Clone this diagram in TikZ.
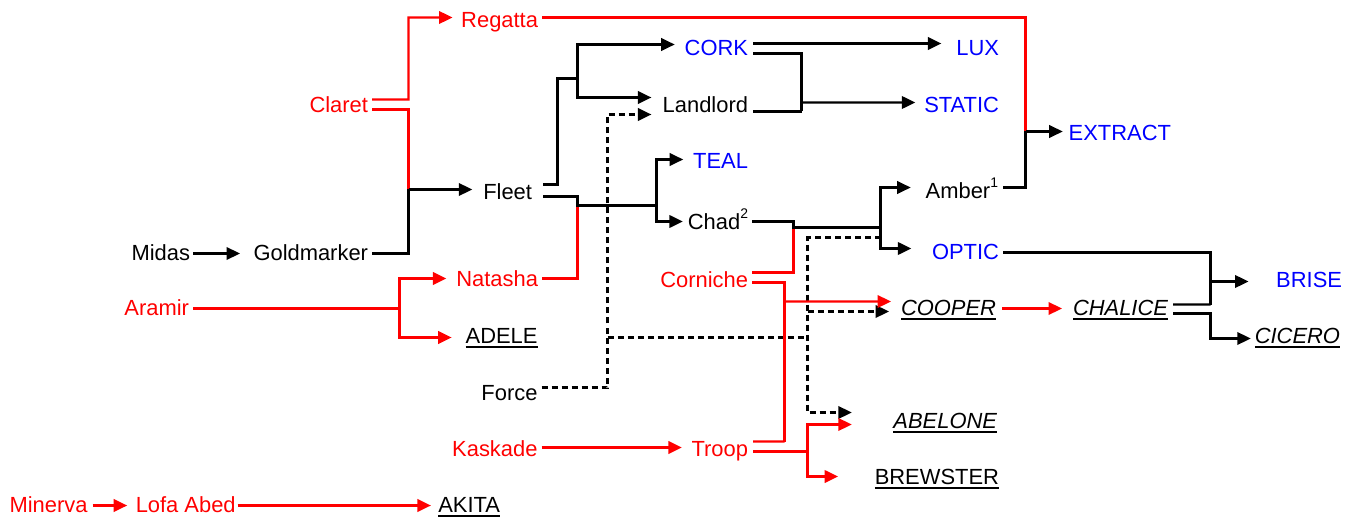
\documentclass[tikz,border=0pt]{standalone}
\usepackage{fontspec}
\setmainfont{Liberation Sans}
\usetikzlibrary{calc,arrows.meta}
\newcommand\ulbox[1]{\setbox0\hbox{#1}\rlap{\rule[-3.8pt]{\wd0}{1.6pt}}\box0}
\newcommand\supnum[1]{\raisebox{11pt}{\fontsize{14}{14}\selectfont #1}}
\tikzset{
  lbl/.style={anchor=east, inner sep=0pt, outer sep=0pt, text height=15.75pt, text depth=0pt, font=\fontsize{22}{26}\selectfont},
  tred/.style={lbl, text=red},
  tblue/.style={lbl, text=blue},
  tblack/.style={lbl, text=black},
  ln/.style={line width=2.2bp},
  arr/.style={ln, -{Triangle[length=13.5bp,width=12.5bp]}},
  dsh/.style={dash pattern=on 6bp off 4bp},
}
\begin{document}
\begin{tikzpicture}[x=1bp,y=-1bp]
\useasboundingbox (0,0) rectangle (1357,517);
% column 0/1
\node[tred]   (regatta)    at (538,20)    {Regatta};
\node[tred]   (claret)     at (368,105)   {Claret};
\node[tblack] (fleet)      at (532,191.5) {Fleet};
\node[tblack] (midas)      at (190,253)   {Midas};
\node[tblack] (goldmarker) at (368,253)   {Goldmarker};
\node[tred]   (natasha)    at (538,279)   {Natasha};
\node[tred]   (aramir)     at (189,308)   {Aramir};
\node[tblack] (adele)      at (537.5,336) {\ulbox{ADELE}};
\node[tblack] (force)      at (537.5,393) {Force};
\node[tred]   (kaskade)    at (537.5,449) {Kaskade};
\node[tred]   (minerva)    at (87.5,505)  {Minerva};
\node[tred]   (lofa)       at (235.7,505) {Lofa Abed};
\node[tblack] (akita)      at (500,505)   {\ulbox{AKITA}};
% column 2
\node[tblue]  (cork)       at (748,47.5)  {CORK};
\node[tblack] (landlord)   at (748,105)   {Landlord};
\node[tblue]  (teal)       at (748,161)   {TEAL};
\node[tblack] (chad)       at (748,222)   {Chad\supnum{2}};
\node[tred]   (corniche)   at (748,280)   {Corniche};
\node[tred]   (troop)      at (748,449)   {Troop};
% column 3
\node[tblue]  (lux)        at (999,47.5)  {LUX};
\node[tblue]  (static)     at (999,105)   {STATIC};
\node[tblack] (amber)      at (998,191)   {Amber\supnum{1}};
\node[tblue]  (optic)      at (999,252)   {OPTIC};
\node[tblack] (cooper)     at (996,308)   {\ulbox{\itshape COOPER}};
\node[tblack] (abelone)    at (997,421)   {\ulbox{\itshape ABELONE}};
\node[tblack] (brewster)   at (999,477)   {\ulbox{BREWSTER}};
% column 4/5
\node[tblue]  (extract)    at (1171,132.5) {EXTRACT};
\node[tblack] (chalice)    at (1168,308)  {\ulbox{\itshape CHALICE}};
\node[tblue]  (brise)      at (1342,279.5) {BRISE};
\node[tblack] (cicero)     at (1340,336)  {\ulbox{\itshape CICERO}};

% junctions
\coordinate (jfleet) at (408.5,189.5);
\coordinate (jcl) at (408.5,99.5);
\coordinate (jext) at (1025.5,131.5);
\coordinate (jfu) at (557.5,78.5);
\coordinate (jck) at (577.5,78.5);
\coordinate (jfl) at (577.5,205.5);
\coordinate (jtc) at (656.5,205.5);
\coordinate (jst) at (801.5,111.5);
\coordinate (jstat) at (801.5,102.5);
\coordinate (jforce) at (607.5,114.5);
\coordinate (jfh) at (607.5,337.5);
\coordinate (jfh2) at (807.5,337.5);
\coordinate (jao) at (880.5,227.5);
\coordinate (jaod) at (880.5,237.5);
\coordinate (jdc) at (807.5,311.5);
\coordinate (jchad) at (793.5,227.5);
\coordinate (jcor) at (793.5,229);
\coordinate (jtr) at (784.5,441.5);
\coordinate (jcoo) at (784.5,301.5);
\coordinate (jtb) at (807.5,451.5);
\coordinate (jop) at (1210.5,304.5);
\coordinate (jbr) at (1210.5,281.5);
\coordinate (jci) at (1210.5,338.5);
\coordinate (jar) at (399.5,308.5);

% Claret / Goldmarker / Midas
\draw[arr,red] ($(claret.east)+(4,-5.5)$) -- (jcl) |- ($(regatta.west)+(-8.7,-2.5)$);
\draw[ln,red] ($(claret.east)+(4,4.5)$) -| (jfleet);
\draw[ln] ($(goldmarker.east)+(4,0.5)$) -| (jfleet);
\draw[arr] (jfleet) -- ($(fleet.west)+(-11,-2)$);
\draw[arr] ($(midas.east)+(3,0.5)$) -- ($(goldmarker.west)+(-13.5,0.5)$);

% Regatta / Amber -> EXTRACT
\draw[ln,red] ($(regatta.east)+(4,-2.5)$) -| (jext);
\draw[ln] ($(amber.east)+(5,-3.5)$) -| (jext);
\draw[arr] (jext) -- ($(extract.west)+(-6,-1)$);

% Fleet upper -> CORK, Landlord
\draw[ln] ($(fleet.east)+(11,-7)$) -| (jfu) -- (jck);
\draw[arr] (jck) |- ($(cork.west)+(-10,-3)$);
\draw[arr] (jck) |- ($(landlord.west)+(-11.3,-7.5)$);

% Fleet lower + Natasha -> TEAL, Chad
\draw[ln,red] ($(natasha.east)+(4,-0.5)$) -| (jfl);
\draw[ln] ($(fleet.east)+(11,5)$) -| (jfl) -- (jtc);
\draw[arr] (jtc) |- ($(teal.west)+(-10,-1.5)$);
\draw[arr] (jtc) |- ($(chad.west)+(-5,-0.5)$);

% CORK -> LUX ; CORK + Landlord -> STATIC
\draw[arr] ($(cork.east)+(5,-4)$) -- ($(lux.west)+(-15,-4)$);
\draw[ln] ($(cork.east)+(5,6)$) -| (jst);
\draw[ln] ($(landlord.east)+(5,6.5)$) -- (jst);
\draw[arr] (jstat) -- ($(static.west)+(-9,-2.5)$);

% Force dashed
\draw[arr,dsh] ($(force.east)+(4,-5.5)$) -| (jforce) -- ($(landlord.west)+(-11.3,9.5)$);
\draw[ln,dsh] (jfh) -- (jfh2);
\draw[arr,dsh] (jaod) -| (jfh2) |- ($(abelone.west)+(-41.7,-8.5)$);
\draw[arr,dsh] (jdc) -- ($(cooper.west)+(-12,3.5)$);

% Chad + Corniche -> Amber, OPTIC
\draw[ln,red] ($(corniche.east)+(4,-7.5)$) -| (jcor);
\draw[ln] ($(chad.east)+(4,-0.5)$) -| (jchad) -- (jao);
\draw[arr] (jao) |- ($(amber.west)+(-15,-3.5)$);
\draw[arr] (jao) |- ($(optic.west)+(-20.7,-3.5)$);

% Corniche + Troop -> COOPER
\draw[ln,red] ($(corniche.east)+(4,2.5)$) -| (jtr);
\draw[ln,red] ($(troop.east)+(5,-7.5)$) -- (jtr);
\draw[arr,red] (jcoo) -- ($(cooper.west)+(-10,-6.5)$);

% Kaskade -> Troop
\draw[arr,red] ($(kaskade.east)+(4,-1.5)$) -- ($(troop.west)+(-9.7,-1.5)$);

% Troop -> ABELONE, BREWSTER
\draw[ln,red] ($(troop.east)+(5,2.5)$) -- (jtb);
\draw[arr,red] (jtb) |- ($(abelone.west)+(-41.7,3.5)$);
\draw[arr,red] (jtb) |- ($(brewster.west)+(-36.7,-0.5)$);

% OPTIC + CHALICE -> BRISE ; CHALICE -> CICERO
\draw[ln] ($(optic.east)+(4,0.5)$) -| (jop);
\draw[ln] ($(chalice.east)+(5,-3.5)$) -- (jop);
\draw[arr] (jbr) -- ($(brise.west)+(-27.7,2)$);
\draw[arr] ($(chalice.east)+(5,5.5)$) -| (jci) -- ($(cicero.west)+(-4,2.5)$);
\draw[arr,red] ($(cooper.east)+(6,0.5)$) -- ($(chalice.west)+(-11,0.5)$);

% Aramir -> Natasha, ADELE
\draw[ln,red] ($(aramir.east)+(4,0.5)$) -- (jar);
\draw[arr,red] (jar) |- ($(natasha.west)+(-10,-0.5)$);
\draw[arr,red] (jar) |- ($(adele.west)+(-14,1.5)$);

% Minerva -> Lofa Abed -> AKITA
\draw[arr,red] ($(minerva.east)+(5,0.5)$) -- ($(lofa.west)+(-8.6,0.5)$);
\draw[arr,red] ($(lofa.east)+(2,0.5)$) -- ($(akita.west)+(-7.4,0.5)$);
\end{tikzpicture}
\end{document}
